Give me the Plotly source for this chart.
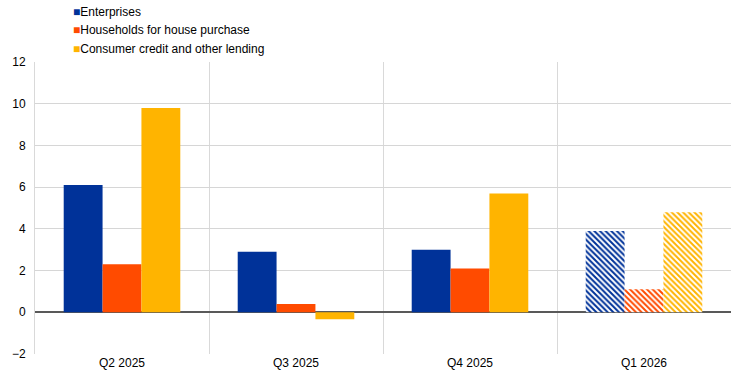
import plotly.graph_objects as go

categories = ["Q2 2025", "Q3 2025", "Q4 2025", "Q1 2026"]
enterprises = [6.1, 2.9, 3.0, 3.9]
households = [2.3, 0.4, 2.1, 1.1]
consumer = [9.8, -0.33, 5.7, 4.8]
series_names = ["Enterprises", "Households for house purchase", "Consumer credit and other lending"]
colors = ["#003299", "#FF4B00", "#FFB400"]
y_ticks = [-2, 0, 2, 4, 6, 8, 10, 12]

fig = go.Figure()
for name, vals, col in zip(series_names, [enterprises, households, consumer], colors):
    shapes = ["", "", "", "\\"]
    fig.add_trace(go.Bar(
        x=categories, y=vals, name=name,
        marker=dict(color=col, line=dict(width=0),
                    pattern=dict(shape=shapes, fgcolor=col, bgcolor="white",
                                 size=4, solidity=0.5, fillmode="replace")),
        showlegend=False,
    ))

# legend drawn as text entries
for i, (name, col) in enumerate(zip(series_names, colors)):
    fig.add_annotation(
        xref="paper", yref="paper", x=0.0515, y=1.171 - i * 0.0625,
        xanchor="left", yanchor="middle", showarrow=False,
        text=f"<span style='color:{col};font-size:12px'>■</span>{name}",
        font=dict(size=12, color="#000"),
    )

fig.update_layout(
    width=742, height=379,
    margin=dict(l=35, r=11, t=62, b=25, autoexpand=False),
    barmode="group", bargap=0.33, bargroupgap=0,
    plot_bgcolor="white", paper_bgcolor="white",
    font=dict(family="Arial, Liberation Sans, sans-serif", size=12, color="#000"),
)
fig.update_xaxes(type="category", tickson="boundaries", showgrid=True,
                 gridcolor="#d9d9d9", gridwidth=1, ticks="", showline=False,
                 automargin=False, tickfont=dict(size=12))
fig.update_yaxes(range=[-2, 12], tickvals=y_ticks, showgrid=True,
                 gridcolor="#d6d6d6", gridwidth=1, zeroline=True,
                 zerolinecolor="#595959", zerolinewidth=2,
                 showline=True, linecolor="#d9d9d9", ticks="", ticklabelstandoff=6,
                 automargin=False, tickfont=dict(size=12))
fig.write_html("out.html", config={"displayModeBar": False},
               post_script="document.body.style.margin='0';document.body.style.overflow='hidden';")
